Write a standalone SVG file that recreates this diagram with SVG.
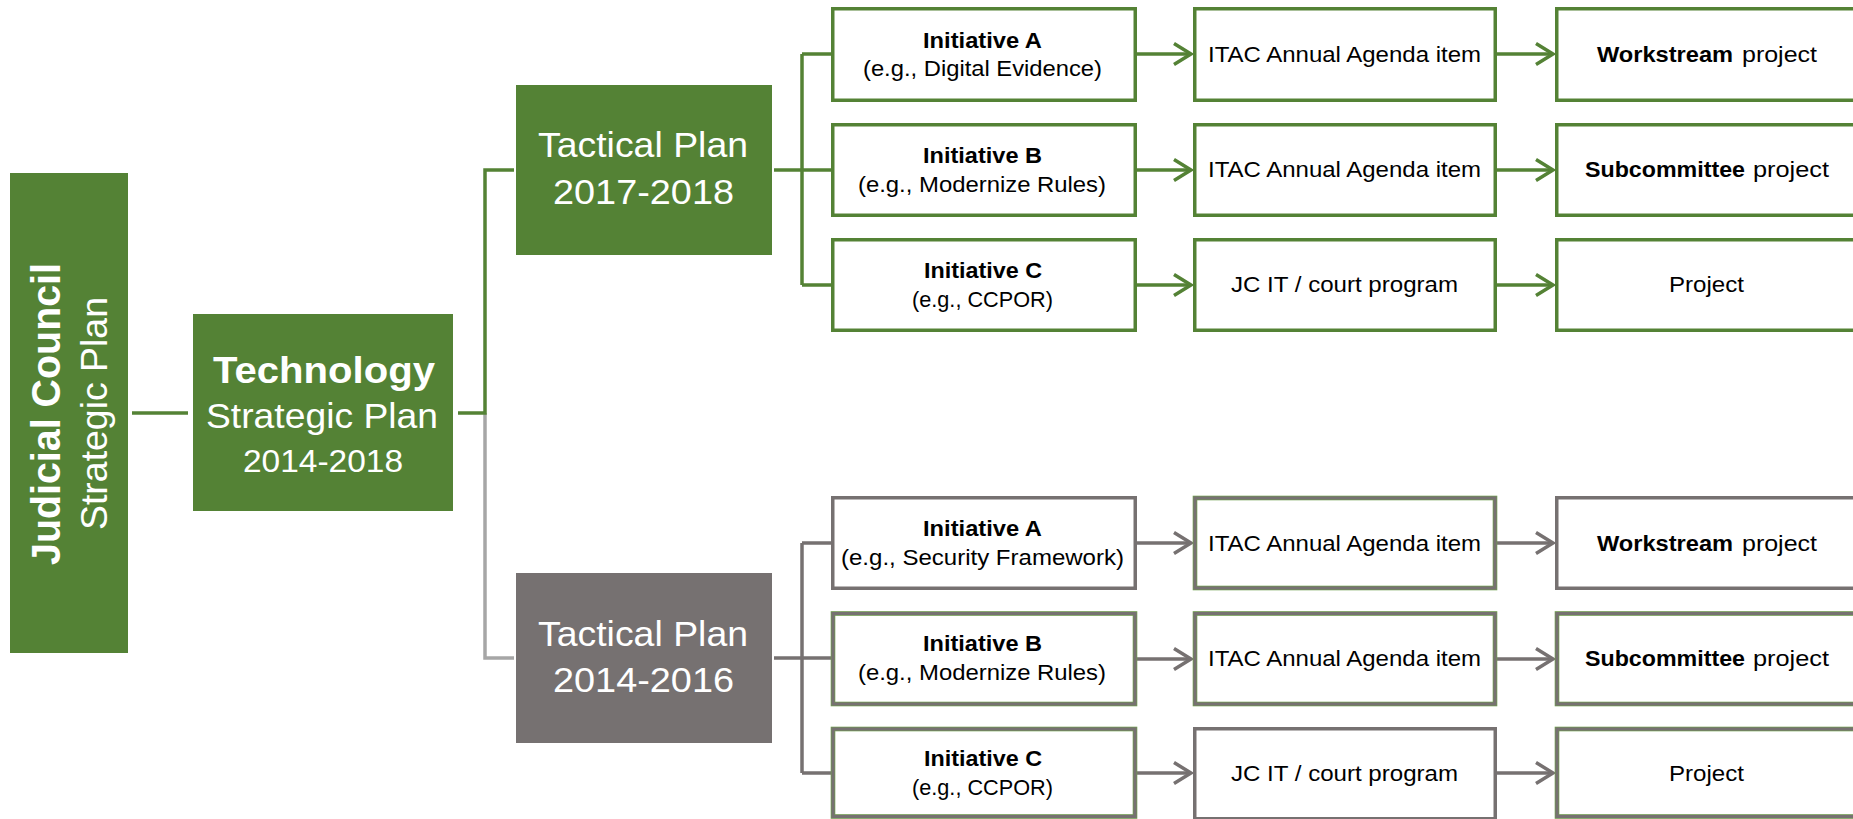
<svg xmlns="http://www.w3.org/2000/svg" width="1853" height="819" viewBox="0 0 1853 819">
<defs>
<style>
text{font-family:"Liberation Sans",Arial,sans-serif;}
.w{fill:#ffffff;}
.k{fill:#000000;}
.b{font-weight:bold;}
.s{font-size:22px;}
.gfill{fill:#548235;}
.dfill{fill:#767171;}
.gbox{fill:#ffffff;stroke:#548235;stroke-width:3.5;}
.ybox{fill:#ffffff;stroke:#767171;stroke-width:3.5;}
.dual-under{fill:#ffffff;stroke:#70a04e;stroke-width:4.6;}
.dual-over{fill:none;stroke:#767171;stroke-width:3.2;}
.gl{fill:none;stroke:#548235;stroke-width:3.5;}
.yl{fill:none;stroke:#767171;stroke-width:3.5;}
.ll{fill:none;stroke:#a6a6a6;stroke-width:3.5;}
</style>
<marker id="ag" markerUnits="userSpaceOnUse" markerWidth="22" markerHeight="26" refX="18" refY="12" orient="auto" overflow="visible">
<path d="M1,1.5 L18,12 L1,22.5" fill="none" stroke="#548235" stroke-width="3.5"/>
</marker>
<marker id="ay" markerUnits="userSpaceOnUse" markerWidth="22" markerHeight="26" refX="18" refY="12" orient="auto" overflow="visible">
<path d="M1,1.5 L18,12 L1,22.5" fill="none" stroke="#767171" stroke-width="3.5"/>
</marker>
</defs>

<g id="connectors">
<path class="gl" d="M132,413 H188"/>
<path class="ll" d="M485,413 V658 H514"/>
<path class="gl" d="M458,413 H485 V170 H514"/>
<path class="gl" d="M774,170 H831 M802,54 V285 M802,54 H831 M802,285 H831"/>
<path class="yl" d="M774,658 H831 M802,543 V773 M802,543 H831 M802,773 H831"/>
<path class="gl" d="M1137,54 H1191" marker-end="url(#ag)"/>
<path class="gl" d="M1137,170 H1191" marker-end="url(#ag)"/>
<path class="gl" d="M1137,285 H1191" marker-end="url(#ag)"/>
<path class="gl" d="M1497,54 H1553" marker-end="url(#ag)"/>
<path class="gl" d="M1497,170 H1553" marker-end="url(#ag)"/>
<path class="gl" d="M1497,285 H1553" marker-end="url(#ag)"/>
<path class="yl" d="M1137,543 H1191" marker-end="url(#ay)"/>
<path class="yl" d="M1137,659 H1191" marker-end="url(#ay)"/>
<path class="yl" d="M1137,773 H1191" marker-end="url(#ay)"/>
<path class="yl" d="M1497,543 H1553" marker-end="url(#ay)"/>
<path class="yl" d="M1497,659 H1553" marker-end="url(#ay)"/>
<path class="yl" d="M1497,773 H1553" marker-end="url(#ay)"/>
</g>

<g id="judicial-council">
<rect class="gfill" x="10" y="173" width="118" height="480"/>
<text class="w b" font-size="40" transform="translate(60,565) rotate(-90)" textLength="302" lengthAdjust="spacingAndGlyphs">Judicial Council</text>
<text class="w" font-size="37" transform="translate(107,530) rotate(-90)" textLength="233" lengthAdjust="spacingAndGlyphs">Strategic Plan</text>
</g>

<g id="technology-plan">
<rect class="gfill" x="193" y="314" width="260" height="197"/>
<text class="w b" font-size="36" x="213" y="383" textLength="222" lengthAdjust="spacingAndGlyphs">Technology</text>
<text class="w" font-size="35" x="206" y="428" textLength="232" lengthAdjust="spacingAndGlyphs">Strategic Plan</text>
<text class="w" font-size="32" x="243" y="472" textLength="160" lengthAdjust="spacingAndGlyphs">2014-2018</text>
</g>

<g id="tactical-2017">
<rect class="gfill" x="516" y="85" width="256" height="170"/>
<text class="w" font-size="35" x="538" y="157" textLength="210" lengthAdjust="spacingAndGlyphs">Tactical Plan</text>
<text class="w" font-size="35" x="553" y="204" textLength="181" lengthAdjust="spacingAndGlyphs">2017-2018</text>
</g>

<g id="tactical-2014">
<rect class="dfill" x="516" y="573" width="256" height="170"/>
<text class="w" font-size="35" x="538" y="646" textLength="210" lengthAdjust="spacingAndGlyphs">Tactical Plan</text>
<text class="w" font-size="35" x="553" y="692" textLength="181" lengthAdjust="spacingAndGlyphs">2014-2016</text>
</g>

<g id="t-init-a">
<rect class="gbox" x="832.75" y="8.75" width="302.5" height="91.5"/>
<text class="k b s" x="923" y="48" textLength="119" lengthAdjust="spacingAndGlyphs">Initiative A</text>
<text class="k s" x="863" y="76" textLength="239" lengthAdjust="spacingAndGlyphs">(e.g., Digital Evidence)</text>
</g>
<g id="t-init-b">
<rect class="gbox" x="832.75" y="124.75" width="302.5" height="90.5"/>
<text class="k b s" x="923" y="163" textLength="119" lengthAdjust="spacingAndGlyphs">Initiative B</text>
<text class="k s" x="858" y="192" textLength="248" lengthAdjust="spacingAndGlyphs">(e.g., Modernize Rules)</text>
</g>
<g id="t-init-c">
<rect class="gbox" x="832.75" y="239.75" width="302.5" height="90.5"/>
<text class="k b s" x="924" y="278" textLength="118" lengthAdjust="spacingAndGlyphs">Initiative C</text>
<text class="k s" x="912" y="307" textLength="141" lengthAdjust="spacingAndGlyphs">(e.g., CCPOR)</text>
</g>

<g id="t-itac-a">
<rect class="gbox" x="1194.75" y="8.75" width="300.5" height="91.5"/>
<text class="k s" x="1208" y="62" textLength="273" lengthAdjust="spacingAndGlyphs">ITAC Annual Agenda item</text>
</g>
<g id="t-itac-b">
<rect class="gbox" x="1194.75" y="124.75" width="300.5" height="90.5"/>
<text class="k s" x="1208" y="177" textLength="273" lengthAdjust="spacingAndGlyphs">ITAC Annual Agenda item</text>
</g>
<g id="t-jcit">
<rect class="gbox" x="1194.75" y="239.75" width="300.5" height="90.5"/>
<text class="k s" x="1231" y="292" textLength="227" lengthAdjust="spacingAndGlyphs">JC IT / court program</text>
</g>

<g id="t-workstream">
<rect class="gbox" x="1556.75" y="8.75" width="400" height="91.5"/>
<text class="k b s" x="1597" y="62" textLength="136" lengthAdjust="spacingAndGlyphs">Workstream</text>
<text class="k s" x="1742" y="62" textLength="75" lengthAdjust="spacingAndGlyphs">project</text>
</g>
<g id="t-subcommittee">
<rect class="gbox" x="1556.75" y="124.75" width="400" height="90.5"/>
<text class="k b s" x="1585" y="177" textLength="160" lengthAdjust="spacingAndGlyphs">Subcommittee</text>
<text class="k s" x="1753" y="177" textLength="76" lengthAdjust="spacingAndGlyphs">project</text>
</g>
<g id="t-project">
<rect class="gbox" x="1556.75" y="239.75" width="400" height="90.5"/>
<text class="k s" x="1669" y="292" textLength="75" lengthAdjust="spacingAndGlyphs">Project</text>
</g>

<g id="b-init-a">
<rect class="ybox" x="832.75" y="497.75" width="302.5" height="90.5"/>
<text class="k b s" x="923" y="536" textLength="119" lengthAdjust="spacingAndGlyphs">Initiative A</text>
<text class="k s" x="841" y="565" textLength="283" lengthAdjust="spacingAndGlyphs">(e.g., Security Framework)</text>
</g>
<g id="b-init-b">
<rect class="dual-under" x="833" y="613.5" width="302" height="90.5"/>
<rect class="dual-over" x="833" y="613.5" width="302" height="90.5"/>
<text class="k b s" x="923" y="651" textLength="119" lengthAdjust="spacingAndGlyphs">Initiative B</text>
<text class="k s" x="858" y="680" textLength="248" lengthAdjust="spacingAndGlyphs">(e.g., Modernize Rules)</text>
</g>
<g id="b-init-c">
<rect class="dual-under" x="833" y="729" width="302" height="87.5"/>
<rect class="dual-over" x="833" y="729" width="302" height="87.5"/>
<text class="k b s" x="924" y="766" textLength="118" lengthAdjust="spacingAndGlyphs">Initiative C</text>
<text class="k s" x="912" y="795" textLength="141" lengthAdjust="spacingAndGlyphs">(e.g., CCPOR)</text>
</g>

<g id="b-itac-a">
<rect class="dual-under" x="1195" y="498" width="300" height="90"/>
<rect class="dual-over" x="1195" y="498" width="300" height="90"/>
<text class="k s" x="1208" y="551" textLength="273" lengthAdjust="spacingAndGlyphs">ITAC Annual Agenda item</text>
</g>
<g id="b-itac-b">
<rect class="dual-under" x="1195" y="613.5" width="300" height="90.5"/>
<rect class="dual-over" x="1195" y="613.5" width="300" height="90.5"/>
<text class="k s" x="1208" y="666" textLength="273" lengthAdjust="spacingAndGlyphs">ITAC Annual Agenda item</text>
</g>
<g id="b-jcit">
<rect class="ybox" x="1194.75" y="728.75" width="300.5" height="90"/>
<text class="k s" x="1231" y="781" textLength="227" lengthAdjust="spacingAndGlyphs">JC IT / court program</text>
</g>

<g id="b-workstream">
<rect class="ybox" x="1556.75" y="497.75" width="400" height="90.5"/>
<text class="k b s" x="1597" y="551" textLength="136" lengthAdjust="spacingAndGlyphs">Workstream</text>
<text class="k s" x="1742" y="551" textLength="75" lengthAdjust="spacingAndGlyphs">project</text>
</g>
<g id="b-subcommittee">
<rect class="dual-under" x="1557" y="613.5" width="400" height="90.5"/>
<rect class="dual-over" x="1557" y="613.5" width="400" height="90.5"/>
<text class="k b s" x="1585" y="666" textLength="160" lengthAdjust="spacingAndGlyphs">Subcommittee</text>
<text class="k s" x="1753" y="666" textLength="76" lengthAdjust="spacingAndGlyphs">project</text>
</g>
<g id="b-project">
<rect class="dual-under" x="1557" y="729" width="400" height="87.5"/>
<rect class="dual-over" x="1557" y="729" width="400" height="87.5"/>
<text class="k s" x="1669" y="781" textLength="75" lengthAdjust="spacingAndGlyphs">Project</text>
</g>
</svg>
